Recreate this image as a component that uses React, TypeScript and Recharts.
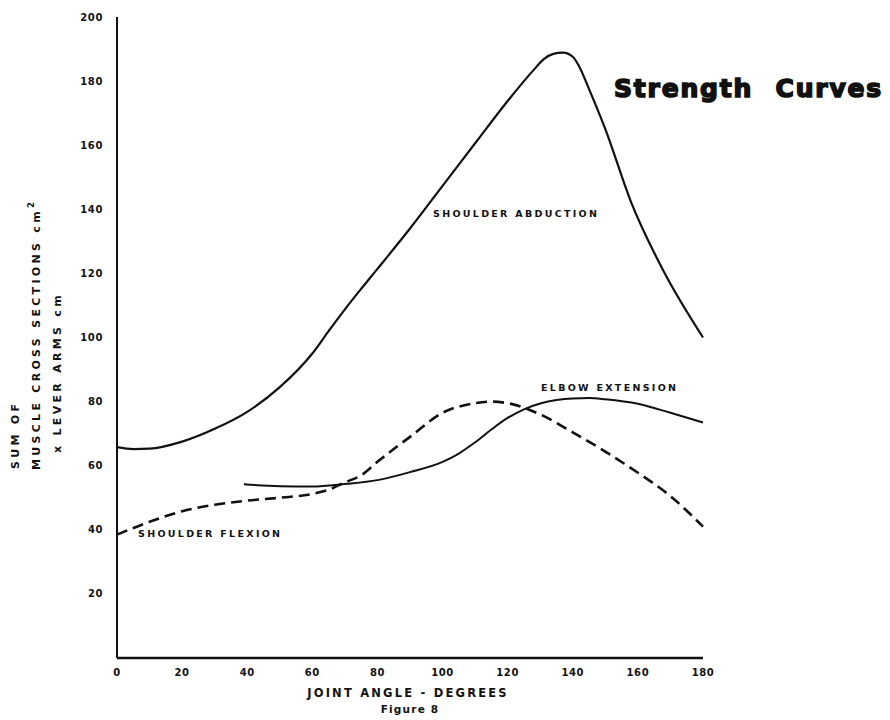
import { LineChart, Line, XAxis, YAxis } from "recharts";

// joint angle (deg) vs. sum of muscle cross sections x lever arms
const abductionAngles = [0, 5, 10, 20, 30, 40, 50, 60, 65, 70, 75, 80, 90, 100, 110, 120, 128, 131, 134, 137, 140, 142, 145, 150, 158, 168, 180];
const abductionValues = [65.8, 65.2, 65.3, 67.5, 71.5, 76.8, 84.5, 95, 102, 108.8, 115.2, 121.4, 134, 147.3, 160.6, 173.8, 183.5, 186.8, 188.5, 188.9, 187.6, 184.5, 177.5, 165, 142, 120.5, 100];

const elbowAngles = [39, 50, 60, 70, 80, 90, 100, 105, 110, 115, 120, 125, 130, 135, 140, 145, 150, 160, 170, 180];
const elbowValues = [54.2, 53.6, 53.5, 54.3, 55.5, 58, 61.2, 63.8, 67.3, 71.3, 74.9, 77.6, 79.4, 80.5, 81, 81.1, 80.7, 79.3, 76.5, 73.5];

const flexionAngles = [0, 10, 20, 30, 40, 50, 60, 65, 70, 75, 80, 85, 90, 100, 110, 115, 120, 130, 140, 150, 160, 170, 180];
const flexionValues = [38.5, 42.5, 45.8, 47.8, 49.1, 50, 51.2, 52.5, 54.8, 57, 61.2, 65.2, 69, 76.5, 79.5, 80, 79.5, 76, 70.4, 64.4, 57.8, 50.5, 41];

const xTicks = [0, 20, 40, 60, 80, 100, 120, 140, 160, 180];
const yTicks = [20, 40, 60, 80, 100, 120, 140, 160, 180, 200];

const toPoints = (angles: number[], values: number[]) =>
  angles.map((deg, i) => ({ deg, v: values[i] }));

const abduction = toPoints(abductionAngles, abductionValues);
const elbow = toPoints(elbowAngles, elbowValues);
const flexion = toPoints(flexionAngles, flexionValues);

const INK = "#111";
const FONT = "'DejaVu Sans', sans-serif";

const tickStyle = { fontSize: 10, fontWeight: 700, fill: INK, fontFamily: FONT, letterSpacing: 0.6 };

function Annotations() {
  const small = { fontSize: 9.5, fontWeight: 700, fill: INK, fontFamily: FONT, letterSpacing: 2.3 };
  const yTitle = { fontSize: 11, fontWeight: 700, fill: INK, fontFamily: FONT, letterSpacing: 3.3 };
  return (
    <svg
      width={890}
      height={720}
      style={{ position: "absolute", left: 0, top: 0, pointerEvents: "none" }}
    >
      <text
        x={614}
        y={97}
        fontSize={25}
        fontWeight={900}
        fill={INK}
        stroke={INK}
        strokeWidth={1.6}
        fontFamily={FONT}
        letterSpacing={1.8}
        wordSpacing={12}
      >
        Strength Curves
      </text>

      <text x={433} y={217} {...small}>SHOULDER  ABDUCTION</text>
      <text x={541} y={391} {...small}>ELBOW  EXTENSION</text>
      <text x={138} y={537} {...small}>SHOULDER  FLEXION</text>

      <text transform="translate(19 469) rotate(-90)" {...yTitle}>SUM  OF</text>
      <text transform="translate(40 470) rotate(-90)" {...yTitle}>
        MUSCLE CROSS SECTIONS cm
        <tspan dy={-6} fontSize={8.5}>2</tspan>
      </text>
      <text transform="translate(61 453) rotate(-90)" {...yTitle}>x  LEVER  ARMS  cm</text>

      <text x={408} y={697} textAnchor="middle" fontSize={11.5} fontWeight={700} fill={INK} fontFamily={FONT} letterSpacing={2.2}>
        JOINT ANGLE - DEGREES
      </text>
      <text x={410} y={713} textAnchor="middle" fontSize={10.5} fontWeight={700} fill={INK} fontFamily={FONT} letterSpacing={1.2}>
        Figure 8
      </text>
    </svg>
  );
}

export default function App() {
  return (
    <div style={{ position: "absolute", left: 0, top: 0, width: 890, height: 720, background: "#fff" }}>
      <LineChart width={890} height={720} margin={{ top: 17, right: 187, bottom: 32, left: 57 }}>
        <XAxis
          dataKey="deg"
          type="number"
          domain={[0, 180]}
          ticks={xTicks}
          height={30}
          tickLine={false}
          tickSize={0}
          tickMargin={11}
          tick={tickStyle}
          axisLine={{ stroke: INK, strokeWidth: 2.5 }}
          allowDuplicatedCategory={false}
        />
        <YAxis
          type="number"
          domain={[0, 200]}
          ticks={yTicks}
          width={60}
          tickLine={false}
          tickSize={0}
          tickMargin={14}
          tick={tickStyle}
          axisLine={{ stroke: INK, strokeWidth: 2 }}
        />
        <Line
          data={abduction}
          dataKey="v"
          type="monotone"
          stroke={INK}
          strokeWidth={2.2}
          dot={false}
          isAnimationActive={false}
        />
        <Line
          data={elbow}
          dataKey="v"
          type="monotone"
          stroke={INK}
          strokeWidth={2}
          dot={false}
          isAnimationActive={false}
        />
        <Line
          data={flexion}
          dataKey="v"
          type="monotone"
          stroke={INK}
          strokeWidth={2.6}
          strokeDasharray="11 6"
          dot={false}
          isAnimationActive={false}
        />
      </LineChart>
      <Annotations />
    </div>
  );
}
